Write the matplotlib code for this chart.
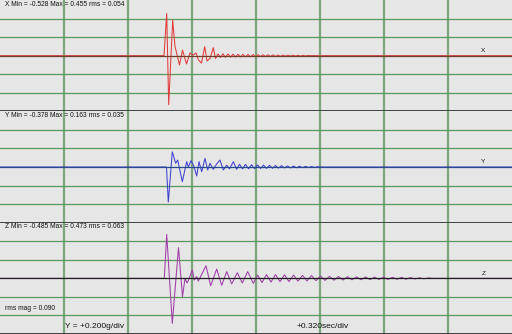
"""
Three-axis accelerometer capture: X / Y / Z traces on a scope-style grid.
"""
import matplotlib.pyplot as plt

# ── Scope settings ───────────────────────────────────────────────────────────
SEC_PER_DIV = 0.32
G_PER_DIV = 0.20
N_XDIV = 8
N_YDIV = 6
T_END = SEC_PER_DIV * N_XDIV

# ── Captured traces (time in s, acceleration in g) ───────────────────────────
x_t = [0.0, 0.820, 0.8335, 0.8435, 0.8635, 0.875, 0.8975, 0.9125, 0.9325,
       0.950, 0.965, 0.980, 0.9925, 1.0075, 1.0235, 1.035, 1.050, 1.0665,
       1.0775, 1.090]
x_g = [0.0, 0.0, 0.455, -0.528, 0.385, 0.10, -0.10, 0.06, -0.09,
       0.03, 0.005, 0.03, -0.046, -0.08, 0.097, -0.057, -0.03, 0.086,
       -0.03, 0.018]
x_tail_start = 1.1025
x_tail_step = 0.0125
x_tail = [-0.02, 0.02, -0.018, 0.018, -0.016, 0.016, -0.015, 0.015, -0.014,
          0.014, -0.013, 0.013, -0.012, 0.012, -0.011, 0.011, -0.01, 0.01,
          -0.009, 0.009, -0.008, 0.008, -0.008, 0.007, -0.007, 0.006, -0.006,
          0.006, -0.005, 0.005, -0.004, 0.004, -0.004, 0.003, -0.003, 0.002,
          0.0]

y_t = [0.0, 0.8325, 0.8415, 0.8615, 0.8785, 0.8885, 0.9115, 0.9335, 0.9415,
       0.955, 0.9675, 0.9835, 0.995, 1.0085, 1.025, 1.0385, 1.050, 1.0665,
       1.0825, 1.100, 1.1165, 1.1335, 1.1475, 1.1665, 1.1835]
y_g = [0.0, 0.0, -0.378, 0.163, 0.04, 0.075, -0.158, 0.057, 0.0,
       0.068, 0.02, -0.097, 0.057, -0.05, 0.093, -0.032, 0.04, -0.025,
       0.03, 0.075, -0.032, 0.02, -0.02, 0.057, -0.025]
y_tail_start = 1.1975
y_tail_step = 0.015
y_tail = [0.03, -0.02, 0.028, -0.02, 0.025, -0.018, 0.022, -0.016, 0.02,
          -0.015, 0.018, -0.014, 0.016, -0.012, 0.014, -0.01, 0.012, -0.01,
          0.01, -0.008, 0.008, -0.006, 0.006, -0.005, 0.005, -0.004, 0.003,
          0.0]

z_t = [0.0, 0.8215, 0.8335, 0.8615, 0.8925, 0.9125, 0.925, 0.935, 0.9425,
       0.9615, 0.9715, 0.9835, 0.9915, 1.030, 1.0535, 1.0835, 1.1085,
       1.1335, 1.1585, 1.1865, 1.2115, 1.2385, 1.2665, 1.2885]
z_g = [0.0, 0.0, 0.473, -0.485, 0.33, -0.198, 0.0, -0.05, -0.02,
       0.09, -0.018, 0.018, -0.03, 0.136, -0.08, 0.1, -0.075, 0.072,
       -0.06, 0.06, -0.05, 0.072, -0.054, 0.035]
z_tail_start = 1.310
z_tail_step = 0.0225
z_tail = [-0.045, 0.04, -0.04, 0.04, -0.035, 0.038, -0.035, 0.035, -0.03,
          0.032, -0.028, 0.03, -0.025, 0.025, -0.022, 0.022, -0.02, 0.02,
          -0.018, 0.018, -0.016, 0.016, -0.015, 0.015, -0.014, 0.013,
          -0.012, 0.012, -0.011, 0.011, -0.01, 0.01, -0.009, 0.008, -0.007,
          0.006, -0.005, 0.004, 0.0]

# ── Channel summaries ────────────────────────────────────────────────────────
channels = ["X", "Y", "Z"]
ch_min = [-0.528, -0.378, -0.485]
ch_max = [0.455, 0.163, 0.473]
ch_rms = [0.054, 0.035, 0.063]
rms_mag = 0.090


def full_trace(t, g, tail_start, tail_step, tail):
    tt = list(t) + [tail_start + i * tail_step for i in range(len(tail))]
    gg = list(g) + list(tail)
    tt.append(T_END)
    gg.append(0.0)
    return tt, gg


traces = [
    full_trace(x_t, x_g, x_tail_start, x_tail_step, x_tail),
    full_trace(y_t, y_g, y_tail_start, y_tail_step, y_tail),
    full_trace(z_t, z_g, z_tail_start, z_tail_step, z_tail),
]
trace_colors = ['#e23a3a', '#3f3fd0', '#a03ca8']
center_colors = ['#6e3f2c', '#244c8c', '#1e1e1e']

# ── Figure ───────────────────────────────────────────────────────────────────
plt.rcParams['font.family'] = ['Liberation Sans', 'DejaVu Sans']
fig = plt.figure(figsize=(5.12, 3.34), dpi=100)
fig.patch.set_facecolor('#e6e6e6')

half = G_PER_DIV * N_YDIV / 2
for i, name in enumerate(channels):
    ax = fig.add_axes([0, 1 - (i + 1) / 3, 1, 1 / 3])
    ax.set_facecolor('#e6e6e6')
    ax.set_xlim(0, T_END)
    ax.set_ylim(-half, half)
    for s in ax.spines.values():
        s.set_visible(False)
    ax.set_xticks([])
    ax.set_yticks([])

    # grid
    for k in range(1, N_XDIV):
        ax.axvline(k * SEC_PER_DIV, color='#7fa57f', linewidth=1.6, zorder=1)
    for k in (-2, -1, 1, 2):
        ax.axhline(k * G_PER_DIV, color='#579a57', linewidth=0.9, zorder=1)
    ax.axhline(-half, color='#333333', linewidth=2.0, zorder=4, clip_on=False)

    # trace + zero line
    tt, gg = traces[i]
    ax.plot(tt, gg, color=trace_colors[i], linewidth=0.75, zorder=2)
    ax.axhline(0, color=center_colors[i], linewidth=0.9, zorder=3)

    ax.text(0.01, 0.963, f"{name} Min = {ch_min[i]:.3f} Max = {ch_max[i]:.3f} rms = {ch_rms[i]:.3f}",
            transform=ax.transAxes, fontsize=4.8, va='center', ha='left', color='#111111')
    ax.text(0.94, 0.545, name, transform=ax.transAxes, fontsize=4.6,
            va='center', ha='left', color='#111111')

    if i == 2:
        ax.text(0.01, 0.225, f"rms mag = {rms_mag:.3f}", transform=ax.transAxes,
                fontsize=4.8, va='center', ha='left', color='#111111')
        ax.text(65 / 512, 0.063, f"Y = +{G_PER_DIV:.3f}g/div", transform=ax.transAxes,
                fontsize=6.0, va='center', ha='left', color='#111111')
        ax.text(297 / 512, 0.063, f"+{SEC_PER_DIV:.3f}sec/div", transform=ax.transAxes,
                fontsize=6.0, va='center', ha='left', color='#111111')

fig.savefig("out.png", dpi=100, facecolor=fig.get_facecolor())
plt.close(fig)
